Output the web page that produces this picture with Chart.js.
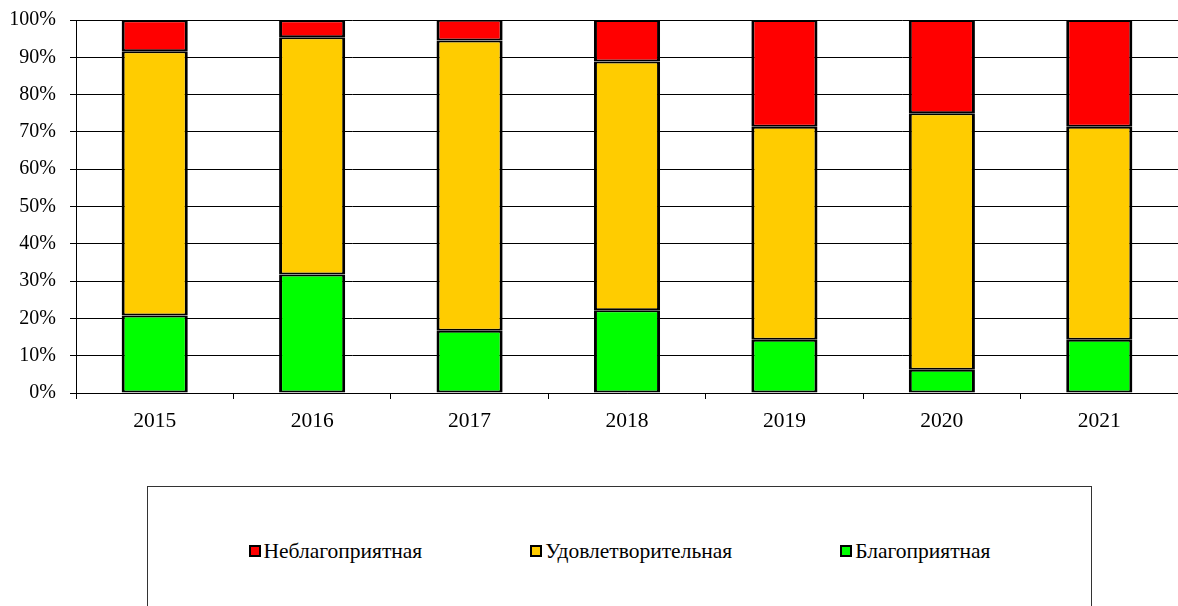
<!DOCTYPE html>
<html>
<head>
<meta charset="utf-8">
<script src="https://cdn.jsdelivr.net/npm/chart.js@4"></script>
<style>
  body { margin: 0; background: #fff; }
  #wrap { position: relative; width: 1178px; height: 606px; overflow: hidden; }
  #chart-box { position: absolute; left: 0; top: 0; width: 1178px; height: 440px; }
  #legend {
    position: absolute; left: 147px; top: 486px; width: 945px; height: 160px;
    border: 1px solid #333; box-sizing: border-box;
    display: flex; justify-content: center; align-items: flex-start;
    font-family: 'Liberation Serif', 'Times New Roman', serif; font-size: 21.5px; color: #000;
  }
  .item { display: flex; align-items: center; margin: 51px 54px 0 54px; line-height: 26px; }
  .mark { width: 8px; height: 8px; border: 2px solid #000; margin-right: 3px; }
</style>
</head>
<body>
<div id="wrap">
  <div id="chart-box"><canvas id="bar"></canvas></div>
  <div id="legend"></div>
</div>
<script>
"use strict";

// годы и доли (%) по категориям
var years = ['2015', '2016', '2017', '2018', '2019', '2020', '2021'];
var bad = [8.3, 4.5, 5.6, 11.1, 28.6, 25.0, 28.6];
var ok = [70.8, 63.6, 77.8, 66.7, 57.1, 68.75, 57.1];
var good = [20.8, 31.8, 16.7, 22.2, 14.3, 6.25, 14.3];
var yTicks = [0, 10, 20, 30, 40, 50, 60, 70, 80, 90, 100];

var seriesNames = ['Неблагоприятная', 'Удовлетворительная', 'Благоприятная'];
var seriesColors = ['#ff0000', '#ffcc00', '#00ff00'];

var yFont = { family: "'Liberation Serif', 'Times New Roman', serif", size: 20 };
var xFont = { family: "'Liberation Serif', 'Times New Roman', serif", size: 21.5 };

function ds(i, values) {
    return {
        label: seriesNames[i],
        data: values,
        backgroundColor: seriesColors[i],
        borderColor: '#000',
        borderWidth: { top: 2, bottom: 2, left: 3, right: 3 },
        borderSkipped: false,
        inflateAmount: 0,
        barPercentage: 0.42,
        categoryPercentage: 1.0
    };
}

var ctx = document.getElementById('bar').getContext('2d');
var chart = new Chart(ctx, {
    type: 'bar',
    data: {
        labels: years,
        // порядок: снизу вверх зелёная, жёлтая, красная
        datasets: [ds(2, good), ds(1, ok), ds(0, bad)]
    },
    options: {
        responsive: true,
        maintainAspectRatio: false,
        animation: false,
        layout: { padding: { top: 20, right: 0, left: 0, bottom: 0 } },
        plugins: {
            legend: { display: false },
            tooltip: { enabled: false }
        },
        scales: {
            x: {
                stacked: true,
                grid: { drawOnChartArea: false, color: '#000', tickLength: 6, offset: true },
                border: { color: '#000', width: 1 },
                ticks: { color: '#000', font: xFont, padding: 9 },
                afterFit: function(scale) { scale.height = 47; }
            },
            y: {
                stacked: true,
                min: 0,
                max: 100,
                afterBuildTicks: function(scale) {
                    scale.ticks = yTicks.map(function(v) { return { value: v }; });
                },
                grid: { color: '#000', tickLength: 6 },
                border: { color: '#000', width: 1 },
                ticks: {
                    color: '#000', font: yFont, padding: 14,
                    callback: function(v) { return v + '%'; }
                },
                afterFit: function(scale) {
                    scale.width = 76;
                    scale.paddingTop = 0;
                    scale.paddingBottom = 0;
                }
            }
        }
    }
});

// легенда
var legend = document.getElementById('legend');
seriesNames.forEach(function(name, i) {
    var item = document.createElement('div');
    item.className = 'item';
    item.innerHTML = '<span class="mark" style="background:' + seriesColors[i] + '"></span>' + name;
    legend.appendChild(item);
});
</script>
</body>
</html>
